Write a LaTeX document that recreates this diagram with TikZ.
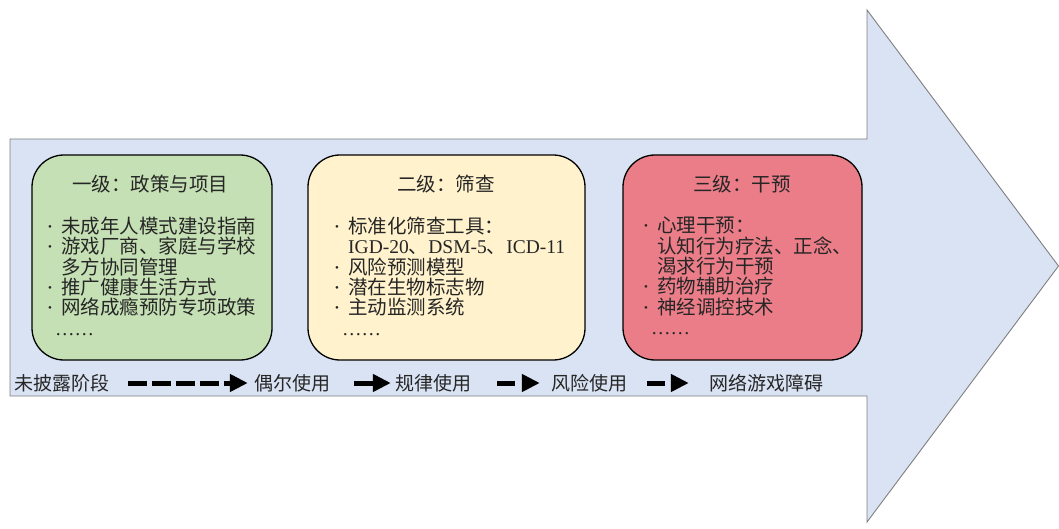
\documentclass[tikz,border=0pt]{standalone}
\usepackage{fontspec}
\setmainfont{Liberation Serif}
\newfontfamily\cjk{Noto Sans CJK SC}
\usetikzlibrary{arrows.meta}
\definecolor{bigarrow}{HTML}{DAE3F3}
\definecolor{bigarrowline}{HTML}{7F7F7F}
\definecolor{greenbox}{HTML}{C5E0B4}
\definecolor{yellowbox}{HTML}{FFF2CC}
\definecolor{redbox}{HTML}{EB7D88}
\definecolor{txt}{HTML}{262626}
\newcommand{\bul}{\makebox[14pt][l]{\rmfamily\hspace{1pt}\raisebox{3pt}{\fontsize{11}{11}\selectfont •}}}
\newcommand{\cont}{\hspace*{14pt}}
\newcommand{\ellipline}{\hspace*{8pt}{\rmfamily ……}}
\begin{document}
\begin{tikzpicture}[x=1pt,y=-1pt,
  stagebox/.style={draw=black, line width=1.3pt, rounded corners=32pt},
  titletext/.style={font=\cjk\fontsize{19.5}{20}\selectfont, text=txt, inner sep=0pt, anchor=center},
  bodytext/.style={font=\cjk\fontsize{19.5}{20.3}\selectfont, text=txt, inner sep=0pt, anchor=north west, align=left},
  rowtext/.style={font=\cjk\fontsize{19}{20}\selectfont, text=txt, inner sep=0pt, anchor=center},
  flow/.style={line width=5pt, -{Triangle[length=18pt,width=17pt]}, black}
]
\useasboundingbox (0,0) rectangle (1059,529);
% big arrow
\draw[fill=bigarrow, draw=bigarrowline, line width=0.9pt]
  (10,139) -- (867,139) -- (867,10) -- (1058.5,266) -- (867,522) -- (867,396) -- (10,396) -- cycle;
% boxes
\draw[stagebox, fill=greenbox] (32,155) rectangle (272,360);
\draw[stagebox, fill=yellowbox] (308,155) rectangle (585,360);
\draw[stagebox, fill=redbox] (623,155) rectangle (862,360);
% titles
\node[titletext] (t1) at (150,184) {一级：政策与项目};
\node[titletext] (t2) at (446,184) {二级：筛查};
\node[titletext] (t3) at (742,184) {三级：干预};
% bodies
\node[bodytext] (b1) at (47,217) {\bul 未成年人模式建设指南\\ \bul 游戏厂商、家庭与学校\\ \cont 多方协同管理\\ \bul 推广健康生活方式\\ \bul 网络成瘾预防专项政策\\ \ellipline};
\node[bodytext] (b2) at (334,217) {\bul 标准化筛查工具：\\ \cont{\rmfamily IGD-20}、{\rmfamily DSM-5}、{\rmfamily ICD-11}\\ \bul 风险预测模型\\ \bul 潜在生物标志物\\ \bul 主动监测系统\\ \ellipline};
\node[bodytext] (b3) at (643,217) {\bul 心理干预：\\ \cont 认知行为疗法、正念、\\ \cont 渴求行为干预\\ \bul 药物辅助治疗\\ \bul 神经调控技术\\ \ellipline};
% bottom row
\node[rowtext] (s1) at (62,383) {未披露阶段};
\node[rowtext] (s2) at (292.5,383) {偶尔使用};
\node[rowtext] (s3) at (433.5,383) {规律使用};
\node[rowtext] (s4) at (589,383) {风险使用};
\node[rowtext] (s5) at (766.5,383) {网络游戏障碍};
\draw[flow, dash pattern=on 19pt off 5pt] ([xshift=18.5pt]s1.east) -- ([xshift=-6.5pt]s2.west);
\draw[flow] ([xshift=23.5pt]s2.east) -- ([xshift=-4.5pt]s3.west);
\draw[flow, dash pattern=on 18pt off 8pt] ([xshift=25.5pt]s3.east) -- ([xshift=-11pt]s4.west);
\draw[flow, dash pattern=on 18pt off 8pt] ([xshift=20pt]s4.east) -- ([xshift=-20.5pt]s5.west);
\end{tikzpicture}
\end{document}
